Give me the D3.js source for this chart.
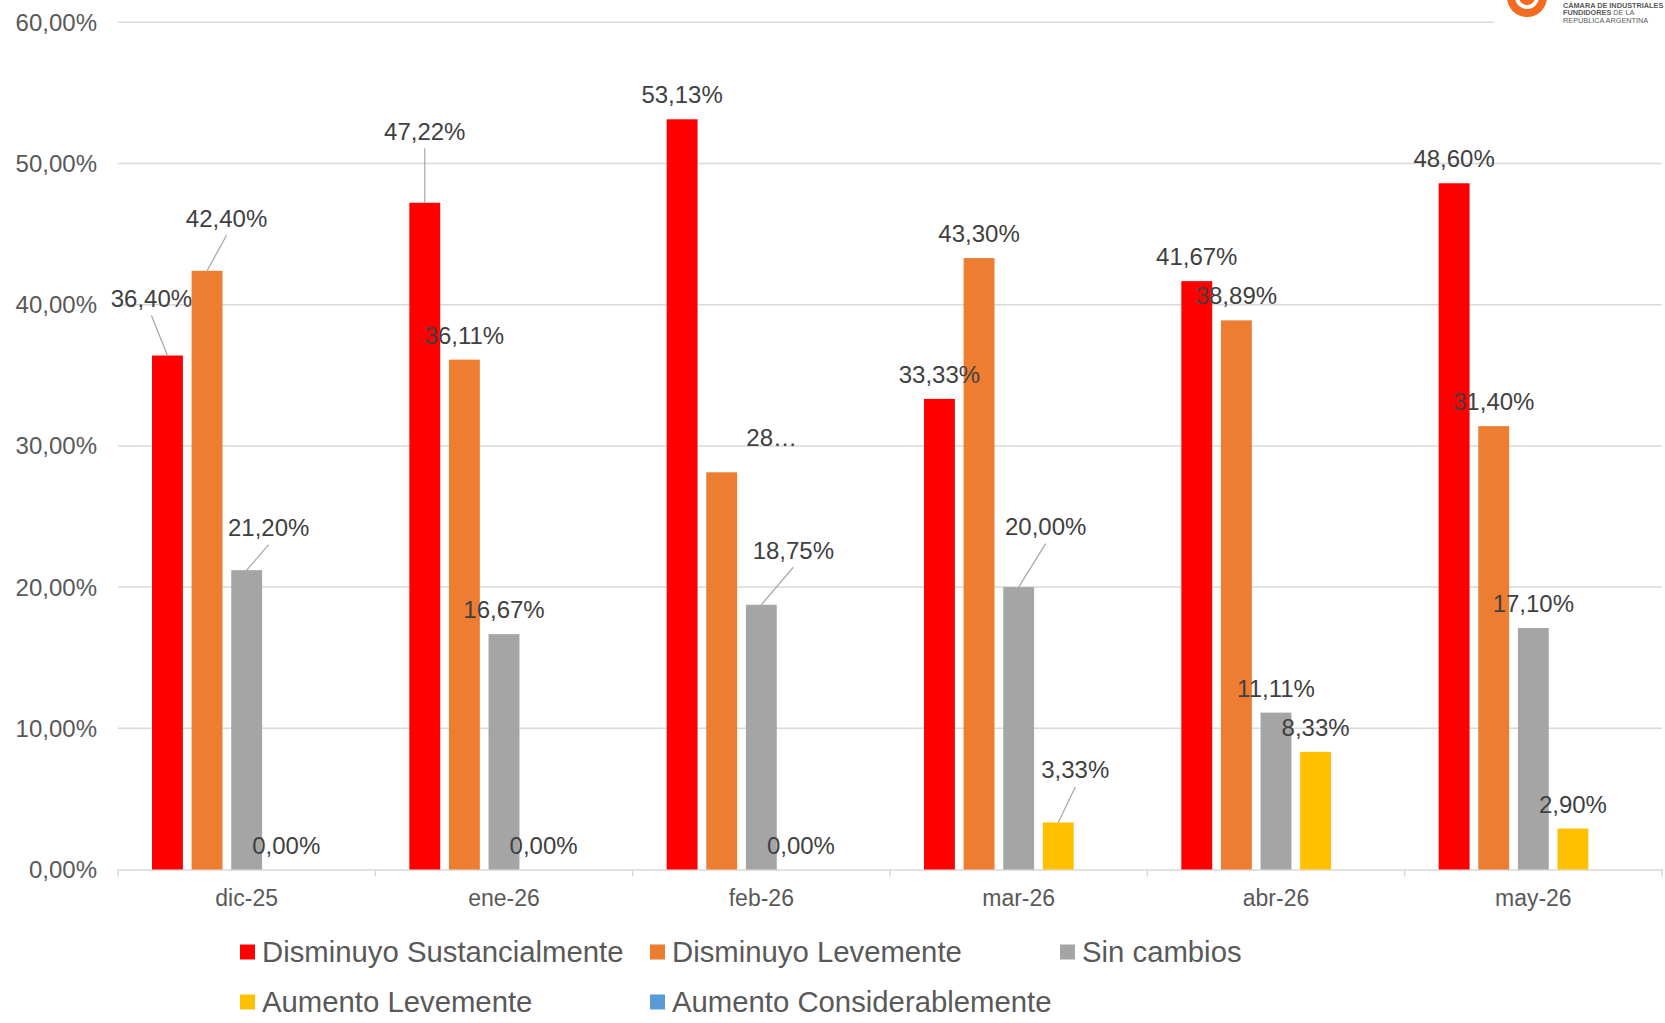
<!DOCTYPE html>
<html>
<head>
<meta charset="utf-8">
<script src="https://cdn.jsdelivr.net/npm/d3@7"></script>
<style>
  body { margin: 0; background: #fff; }
  svg { display: block; font-family: "Liberation Sans", Arial, sans-serif; }
</style>
</head>
<body>
<div id="chart"></div>
<script>
// data
const months = ["dic-25", "ene-26", "feb-26", "mar-26", "abr-26", "may-26"];
const seriesNames = ["Disminuyo Sustancialmente", "Disminuyo Levemente", "Sin cambios", "Aumento Levemente", "Aumento Considerablemente"];
const disminuyoSust = [36.40, 47.22, 53.13, 33.33, 41.67, 48.60];
const disminuyoLeve = [42.40, 36.11, 28.13, 43.30, 38.89, 31.40];
const sinCambios = [21.20, 16.67, 18.75, 20.00, 11.11, 17.10];
const aumentoLeve = [0.00, 0.00, 0.00, 3.33, 8.33, 2.90];
const aumentoConsid = [0, 0, 0, 0, 0, 0];
const yTicks = [0, 10, 20, 30, 40, 50, 60];

const seriesValues = [disminuyoSust, disminuyoLeve, sinCambios, aumentoLeve, aumentoConsid];
const colors = ["#FF0000", "#ED7D31", "#A5A5A5", "#FFC000", "#5B9BD5"];
const showLabels = [true, true, true, true, false];

const W = 1665, H = 1023;
const svg = d3.select("#chart").append("svg")
  .attr("width", W)
  .attr("height", H);

const x0 = d3.scaleBand()
  .domain(months)
  .range([118, 1662])
  .padding(0);

const x1 = d3.scaleBand()
  .domain(seriesNames)
  .range([34, x0.bandwidth() - 34])
  .paddingInner(0.22);

const y = d3.scaleLinear()
  .domain([0, 60])
  .range([869.5, 22.3]);

const fmt = v => v.toFixed(2).replace(".", ",") + "%";

// gridlines
svg.append("g")
  .selectAll("line")
  .data(yTicks.filter(d => d > 0))
  .join("line")
  .attr("x1", 118)
  .attr("x2", 1662)
  .attr("y1", d => y(d))
  .attr("y2", d => y(d))
  .attr("stroke", "#D9D9D9")
  .attr("stroke-width", 1.5);

// y labels
svg.append("g")
  .selectAll("text")
  .data(yTicks)
  .join("text")
  .attr("x", 97)
  .attr("y", d => y(d) + 8.5)
  .attr("text-anchor", "end")
  .attr("font-size", 24)
  .attr("fill", "#595959")
  .text(d => fmt(d));

// x axis
const xAxis = svg.append("g")
  .attr("transform", `translate(0,${y(0)})`)
  .call(d3.axisBottom(x0).tickSize(0).tickPadding(0).tickFormat(""));
xAxis.select(".domain").attr("stroke", "#D9D9D9").attr("stroke-width", 1.5);
xAxis.selectAll(".tick").remove();

xAxis.selectAll(".sep")
  .data(d3.range(months.length + 1))
  .join("line")
  .attr("class", "sep")
  .attr("x1", i => 118 + i * x0.step())
  .attr("x2", i => 118 + i * x0.step())
  .attr("y1", 0)
  .attr("y2", 7)
  .attr("stroke", "#D9D9D9")
  .attr("stroke-width", 1.5);

svg.append("g")
  .selectAll("text")
  .data(months)
  .join("text")
  .attr("x", d => x0(d) + x0.bandwidth() / 2)
  .attr("y", 906)
  .attr("text-anchor", "middle")
  .attr("font-size", 23)
  .attr("fill", "#595959")
  .text(d => d);

// bars
const cells = [];
months.forEach((m, mi) => {
  seriesNames.forEach((s, si) => {
    cells.push({ month: m, series: s, si: si, value: seriesValues[si][mi] });
  });
});

svg.append("g")
  .selectAll("rect")
  .data(cells.filter(d => d.value > 0))
  .join("rect")
  .attr("x", d => x0(d.month) + x1(d.series))
  .attr("y", d => y(d.value))
  .attr("width", x1.bandwidth())
  .attr("height", d => y(0) - y(d.value))
  .attr("fill", d => colors[d.si]);

// label tweaks (Excel moved some labels, with leader lines)
const labelMoves = {
  "dic-25|0": [-16, -32.5, true],
  "dic-25|1": [19.5, -28, true],
  "dic-25|2": [22, -18, true],
  "ene-26|0": [0, -47, true],
  "feb-26|1": [50, -10, false],
  "feb-26|2": [32, -30, true],
  "mar-26|2": [27, -36, true],
  "mar-26|3": [17, -28, true]
};
const truncated = { "feb-26|1": true };

const labelData = cells.filter(d => showLabels[d.si]).map(d => {
  const key = d.month + "|" + d.si;
  const mv = labelMoves[key] || [0, 0, false];
  const bx = x0(d.month) + x1(d.series) + x1.bandwidth() / 2;
  const by = y(d.value);
  let txt = fmt(d.value);
  if (truncated[key]) txt = txt.slice(0, 2) + "…";
  return { bx, by, cx: bx + mv[0], cy: by - 24.5 + mv[1], leader: mv[2], txt };
});

svg.append("g")
  .selectAll("line")
  .data(labelData.filter(d => d.leader))
  .join("line")
  .attr("x1", d => d.bx)
  .attr("y1", d => d.by)
  .attr("x2", d => d.cx)
  .attr("y2", d => d.cy + 17)
  .attr("stroke", "#A6A6A6")
  .attr("stroke-width", 1.2);

svg.append("g")
  .selectAll("text")
  .data(labelData)
  .join("text")
  .attr("x", d => d.cx)
  .attr("y", d => d.cy + 8.5)
  .attr("text-anchor", "middle")
  .attr("font-size", 24)
  .attr("fill", "#404040")
  .text(d => d.txt);

// legend
const legendPos = [[240, 952], [650, 952], [1060, 952], [240, 1002], [650, 1002]];
const legend = svg.append("g")
  .selectAll("g")
  .data(seriesNames)
  .join("g")
  .attr("transform", (d, i) => `translate(${legendPos[i][0]},${legendPos[i][1]})`);

legend.append("rect")
  .attr("x", 0)
  .attr("y", -7.5)
  .attr("width", 15)
  .attr("height", 15)
  .attr("fill", (d, i) => colors[i]);

legend.append("text")
  .attr("x", 22)
  .attr("y", 10)
  .attr("font-size", 29.3)
  .attr("fill", "#595959")
  .text(d => d);

// logo, cut off at the top edge
const logo = svg.append("g");
logo.append("rect")
  .attr("x", 1494).attr("y", 0).attr("width", 171).attr("height", 30)
  .attr("fill", "#fff");
logo.append("circle").attr("cx", 1527).attr("cy", -3).attr("r", 20).attr("fill", "#F26B21");
logo.append("circle").attr("cx", 1527).attr("cy", -3).attr("r", 12).attr("fill", "#fff");
logo.append("circle").attr("cx", 1527).attr("cy", -3).attr("r", 8).attr("fill", "#F26B21");
const logoLines = [["CÁMARA DE INDUSTRIALES", ""], ["FUNDIDORES", " DE LA"], ["REPÚBLICA ARGENTINA", ""]];
logoLines.forEach((l, i) => {
  const t = logo.append("text")
    .attr("x", 1563)
    .attr("y", 7.5 + i * 7.5)
    .attr("font-size", 7.3)
    .attr("fill", "#595959");
  t.append("tspan").attr("font-weight", i < 2 ? "bold" : "normal").text(l[0]);
  t.append("tspan").text(l[1]);
});
</script>
</body>
</html>
